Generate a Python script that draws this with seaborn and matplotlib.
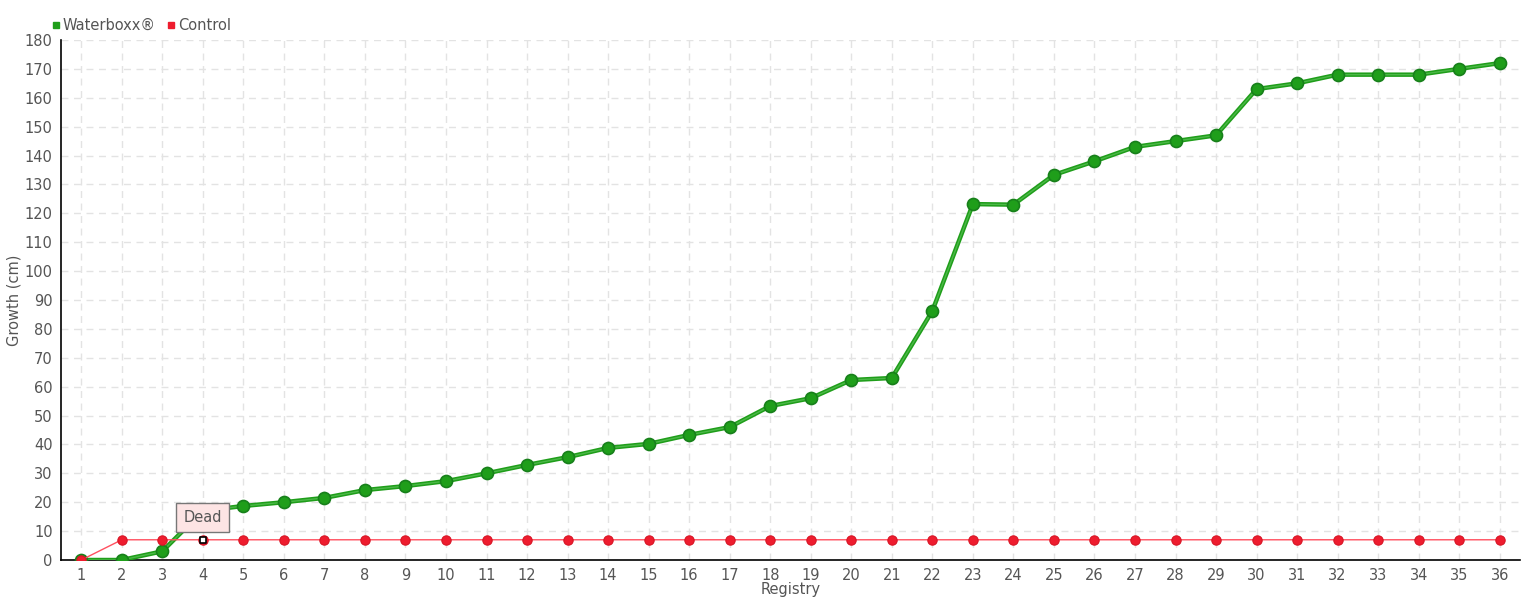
import matplotlib
matplotlib.use("Agg")
import matplotlib.pyplot as plt
import seaborn as sns
import pandas as pd
from matplotlib.lines import Line2D

registry = list(range(1, 37))
waterboxx = [0, 0, 3, 17, 18.7, 20, 21.5, 24.2, 25.6, 27.3, 30, 32.9, 35.6, 38.8,
             40.2, 43.3, 46, 53.3, 56, 62.3, 63, 86.2, 123.2, 123, 133.3, 138, 143,
             145, 147, 163, 165, 168, 168, 168, 170, 172]
control = [0] + [7] * 35
series_names = ["Waterboxx®", "Control"]
dead_label = "Dead"
dead_index = 4

sns.set_style("white")
plt.rcParams['font.family'] = ['DejaVu Sans']

fig = plt.figure(figsize=(15.4, 6), dpi=100)
ax = fig.add_axes([61/1540, 40/600, (1520-61)/1540, 520/600])

df = pd.DataFrame({"Registry": registry, "Waterboxx": waterboxx, "Control": control})

green = "#1f9e1a"
green_dark = "#17801a"
red = "#ee1c2e"

sns.lineplot(data=df, x="Registry", y="Waterboxx", ax=ax, color=green, linewidth=3.2, zorder=3)
sns.lineplot(data=df, x="Registry", y="Waterboxx", ax=ax, color="#4cb848", linewidth=1.0, zorder=3.1)
sns.scatterplot(data=df, x="Registry", y="Waterboxx", ax=ax, color=green, edgecolor=green_dark,
                s=75, linewidth=1.2, zorder=4)

sns.lineplot(data=df, x="Registry", y="Control", ax=ax, color="#ff5060", linewidth=1.0, zorder=5)
sns.scatterplot(data=df, x="Registry", y="Control", ax=ax, color=red, edgecolor="#d81424",
                s=45, linewidth=0.8, zorder=6)

ax.scatter([registry[dead_index-1]], [control[dead_index-1]], marker="s", s=22,
           facecolor="white", edgecolor="black", linewidth=1.2, zorder=8)
ax.annotate(dead_label, xy=(registry[dead_index-1], control[dead_index-1]),
            xytext=(0, 16), textcoords="offset points", ha="center", va="center",
            fontsize=10.5, color="#555555",
            bbox=dict(boxstyle="square,pad=0.5", facecolor="#fde4e4", edgecolor="#777777", linewidth=1),
            zorder=9)

ax.set_xlim(0.5, 36.5)
ax.set_ylim(0, 180)
ax.set_xticks(registry)
ax.set_yticks(range(0, 181, 10))
ax.tick_params(axis="both", labelsize=10.5, colors="#555555", length=4, direction="out", pad=2)
ax.tick_params(axis="both", color="black")
ax.grid(True, linestyle=(0, (5, 4)), color="#e3e3e3", linewidth=1)
for s in ["top", "right"]:
    ax.spines[s].set_visible(False)
for s in ["left", "bottom"]:
    ax.spines[s].set_color("black")
    ax.spines[s].set_linewidth(1.2)

ax.set_xlabel("Registry", fontsize=10.5, color="#555555", labelpad=-1)
ax.set_ylabel("Growth (cm)", fontsize=10.5, color="#555555", labelpad=2)

handles = [Line2D([], [], marker="s", linestyle="none", color=green, markersize=5),
           Line2D([], [], marker="s", linestyle="none", color=red, markersize=5)]
fig.legend(handles, series_names, loc="upper left", bbox_to_anchor=(44/1540, 1-12/600),
           ncol=2, frameon=False, fontsize=10.5, handletextpad=0.1, columnspacing=0.6,
           labelcolor="#555555", borderaxespad=0, handlelength=0.8)

fig.savefig("out.png", dpi=100)
